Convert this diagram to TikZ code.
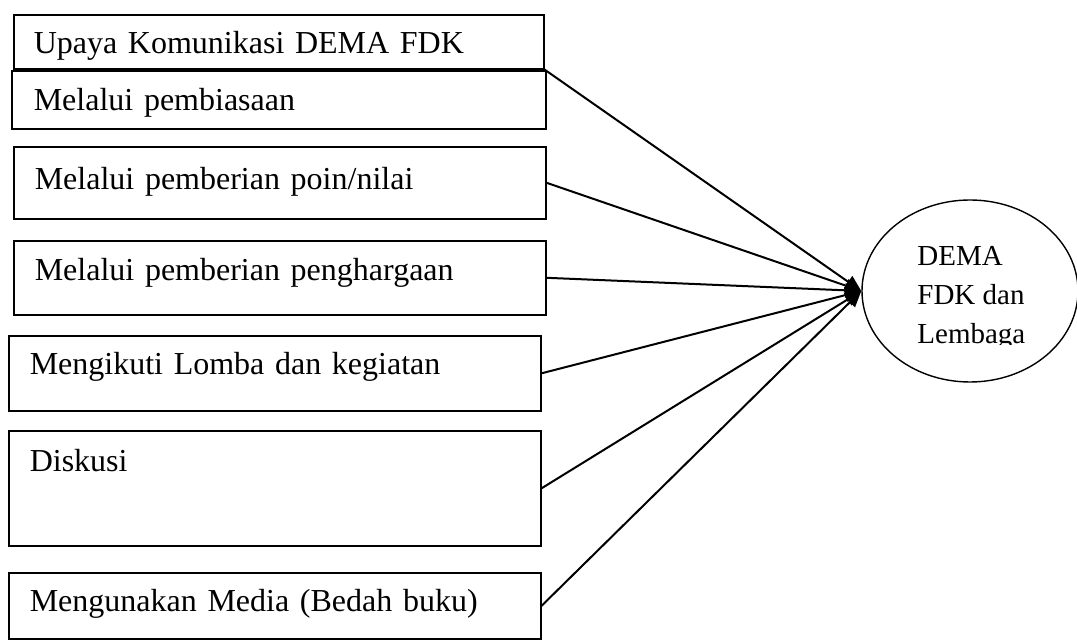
\documentclass[tikz,border=0pt]{standalone}
\usepackage{xcolor}
\usepackage{fontspec}
\setmainfont{Liberation Serif}
\usepackage{tikz}
\usetikzlibrary{
  arrows.meta,
  positioning,
  shapes.geometric
}
\definecolor{UpayaLine}{HTML}{000000}

\begin{document}
\begin{tikzpicture}[x=0.5pt,y=-0.5pt,
    upayabox/.style={draw=UpayaLine,line width=0.8pt,anchor=north west,align=left,
      inner xsep=10.5pt,inner ysep=0pt,text width=245pt,
      font=\fontsize{16}{19}\selectfont},
    demanode/.style={draw=UpayaLine,ellipse,line width=0.7pt,inner sep=0pt,
      minimum width=108pt,minimum height=91pt},
    upayalink/.style={draw=UpayaLine,line width=1pt,-{Triangle[length=8pt,width=7pt]}}
  ]
    \useasboundingbox (0,0) rectangle (1077,640);

    \node[upayabox,text height=19.5pt,text depth=7.5pt,inner xsep=10pt] (judul) at (13,14)
      {Upaya Komunikasi DEMA FDK};
    \node[upayabox,text height=20pt,text depth=9pt,inner xsep=11pt] (biasa) at (11,70)
      {Melalui pembiasaan};
    \node[upayabox,text height=21.5pt,text depth=14.5pt] (poin) at (13,146)
      {Melalui pemberian poin/nilai};
    \node[upayabox,text height=20pt,text depth=17pt] (harga) at (13,240)
      {Melalui pemberian penghargaan};
    \node[upayabox,text height=19.5pt,text depth=18pt] (lomba) at (8,335)
      {Mengikuti Lomba dan kegiatan};
    \node[upayabox,text height=20.5pt,text depth=37pt] (diskusi) at (8,430)
      {Diskusi};
    \node[upayabox,text height=19.5pt,text depth=13.5pt] (media) at (8,572)
      {Mengunakan Media (Bedah buku)};

    % target on the right
    \node[demanode] (dema) at (970,291) {};
    \begin{scope}
      \clip (900,230) rectangle (1060,345);
      \node[anchor=north west,align=left,inner sep=0pt,
        font=\fontsize{14.5}{19.5}\selectfont] (demateks) at (917,246)
        {DEMA\\FDK dan\\Lembaga};
    \end{scope}

    \draw[upayalink] (judul.south east) -- (dema.west);
    \draw[upayalink] (poin.east) -- (dema.west);
    \draw[upayalink] (harga.east) -- (dema.west);
    \draw[upayalink] (lomba.east) -- (dema.west);
    \draw[upayalink] (diskusi.east) -- (dema.west);
    \draw[upayalink] (media.east) -- (dema.west);
  \end{tikzpicture}
\end{document}
